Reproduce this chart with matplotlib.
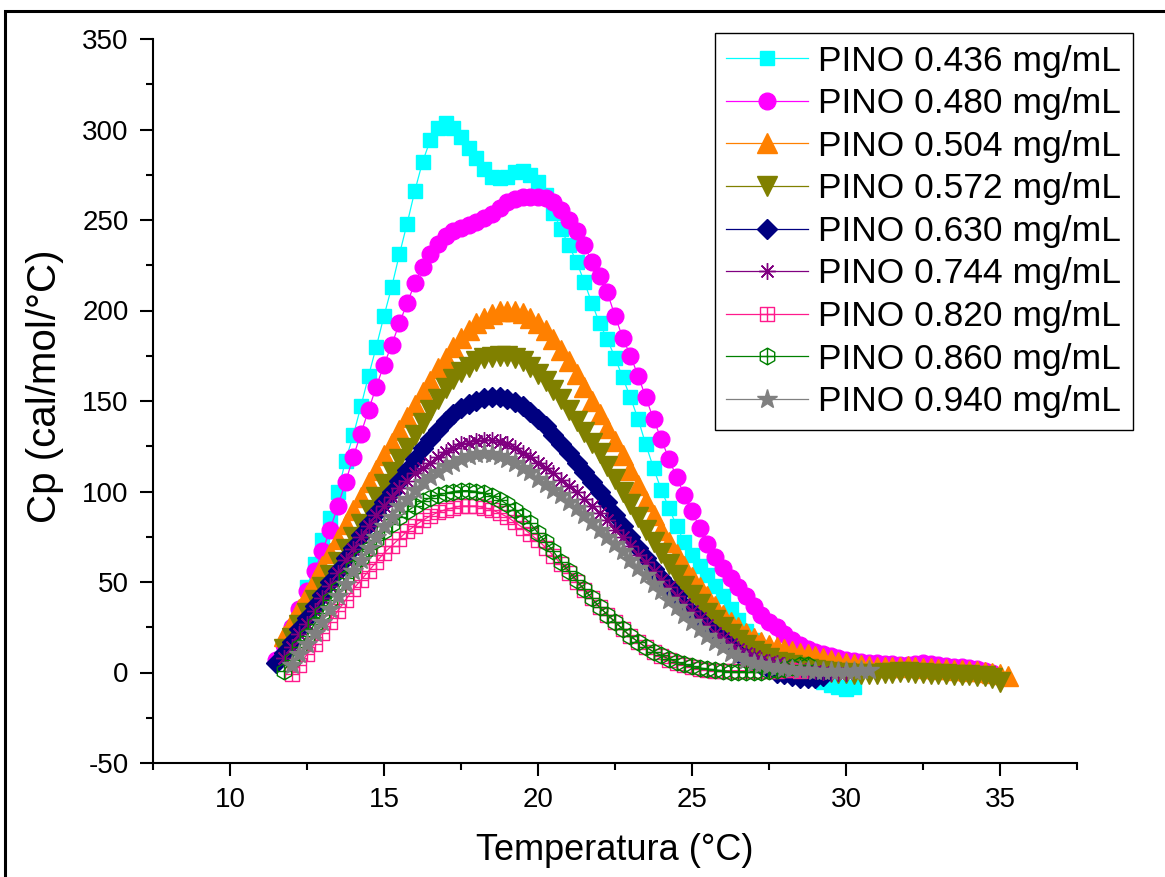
import numpy as np
import matplotlib
matplotlib.use('Agg')
from matplotlib import pyplot as plt
from matplotlib.path import Path
from matplotlib.patches import Rectangle

N = None

# temperature grid (°C)
temp = [11.50, 11.75, 12.00, 12.25, 12.50, 12.75, 13.00, 13.25,
        13.50, 13.75, 14.00, 14.25, 14.50, 14.75, 15.00, 15.25,
        15.50, 15.75, 16.00, 16.25, 16.50, 16.75, 17.00, 17.25,
        17.50, 17.75, 18.00, 18.25, 18.50, 18.75, 19.00, 19.25,
        19.50, 19.75, 20.00, 20.25, 20.50, 20.75, 21.00, 21.25,
        21.50, 21.75, 22.00, 22.25, 22.50, 22.75, 23.00, 23.25,
        23.50, 23.75, 24.00, 24.25, 24.50, 24.75, 25.00, 25.25,
        25.50, 25.75, 26.00, 26.25, 26.50, 26.75, 27.00, 27.25,
        27.50, 27.75, 28.00, 28.25, 28.50, 28.75, 29.00, 29.25,
        29.50, 29.75, 30.00, 30.25, 30.50, 30.75, 31.00, 31.25,
        31.50, 31.75, 32.00, 32.25, 32.50, 32.75, 33.00, 33.25,
        33.50, 33.75, 34.00, 34.25, 34.50, 34.75, 35.00, 35.25]

# Cp (cal/mol/°C) for each concentration
cp_0436 = [N, 14, 24, 34, 47, 60, 73, 85.5,
           99.5, 117, 131, 147, 164, 180, 197, 213,
           231, 248, 266, 282, 294, 301, 303.5, 301,
           296, 290, 284, 278, 274, 273, 274, 276.5,
           277, 275, 271, 264, 254, 245, 236, 227,
           216, 204, 193, 184, 174, 163, 152, 140,
           126, 113, 101, 91, 81, 72, 65, 59,
           54, 48, 42, 35, 29, 23, 18, 14,
           10, 7, 4, 2, 0, -2, -3, -5,
           -7, -8, -9, -8, N, N, N, N,
           N, N, N, N, N, N, N, N,
           N, N, N, N, N, N, N, N]
cp_0480 = [7, 15, 25, 35, 45, 56, 67, 79,
           92, 105, 119, 132, 145, 158, 170, 181,
           193, 204, 215, 224, 231, 237, 241, 244,
           245.5, 247.5, 249, 251, 253.5, 256.5, 260, 261.5,
           262.5, 262.5, 262.5, 262, 260, 255.5, 250, 244,
           236, 227, 219, 210, 197, 185, 175, 164,
           152, 140, 129, 118, 108, 98, 89, 80,
           71, 64, 58, 52, 47, 42, 37, 32,
           28, 25, 21, 18, 15, 13, 11.5, 10,
           9, 8, 7, 6.5, 6, 5.5, 5, 4.5,
           4.5, 4, 4, 4.5, 5, 4.5, 4, 3.5,
           3, 3, 2.5, 2, 1, 0, N, N]
cp_0504 = [N, 20, 28, 35, 43, 51, 59, 66,
           74, 82, 90, 97, 105, 112, 120, 127,
           134, 141, 148, 155, 161, 168, 174, 180,
           185, 189, 193, 196, 198, 199.5, 200, 200,
           198.5, 196, 193, 189, 184, 178, 172, 165,
           158, 150, 143, 135, 128, 120, 112, 103.5,
           95, 87, 79, 72, 65.5, 59, 53, 47.5,
           42, 37, 32, 28, 25, 22, 19, 17,
           15, 14, 13, 12, 11, 10, 9, 8,
           7, 6, 5, 4.5, 4, 3.5, 3, 3,
           3, 3, 3.5, 3, 2.5, 2.5, 2, 2,
           1.5, 1.5, 1, 1, 0.5, 0, -1, -2]
cp_0572 = [N, 13, 19, 26, 33, 40, 47, 54,
           61, 68, 75, 82, 90, 97, 104, 111,
           118, 124, 131, 138, 145, 151, 157, 162,
           166, 169, 172, 173.5, 174.5, 175, 175, 174,
           172, 169, 165, 161, 156, 151, 145, 139,
           133, 127, 121, 114, 107, 100, 93, 86,
           79, 72, 66, 60, 54, 48, 43, 38,
           33, 29, 25, 21, 18, 15, 12, 10,
           8, 6, 5, 4, 3, 2, 1.5, 1,
           0.5, 0, -0.5, -1, -1, -1, -1, -0.5,
           0, 0.5, 0.5, 0, -0.5, -1, -1, -1,
           -1.5, -1.5, -1.5, -2, -2, -3, -5, N]
cp_0630 = [5, 11, 17, 24, 30, 37, 43, 50,
           56, 63, 69, 76, 82, 88, 94, 100,
           106, 112, 118, 124, 129, 134, 139, 143,
           146, 148.5, 150, 151.5, 152, 152, 151, 149.5,
           147, 144, 140, 136, 131, 126, 121, 116,
           111, 105, 100, 94, 87, 81, 75, 69,
           63, 57, 52, 47, 42, 37, 33, 29,
           25, 21, 18, 14, 11, 8, 6, 4,
           2, 0, -1, -2, -3, -3, -3, -2,
           N, N, N, N, N, N, N, N,
           N, N, N, N, N, N, N, N,
           N, N, N, N, N, N, N, N]
cp_0744 = [N, 8, 14, 21, 27, 34, 41, 48,
           55, 62, 68, 75, 81, 87, 92, 97,
           102, 106, 110, 113, 116, 119, 122, 124,
           126, 127, 128, 128.5, 128.5, 127.5, 126, 124,
           121.5, 119, 116, 113, 110, 106.5, 103, 99.5,
           96, 92, 88, 84, 79, 75, 70, 65,
           61, 56, 51, 47, 42, 38, 34, 30,
           26, 22, 19, 16, 13, 11, 9, 7,
           6, 5, 4, 3, 2, 1.5, 1, 0.5,
           0, 0, 0, N, N, N, N, N,
           N, N, N, N, N, N, N, N,
           N, N, N, N, N, N, N, N]
cp_0820 = [N, N, -1, 4, 10, 16, 22, 28,
           34, 40, 46, 51, 56, 61, 66, 70,
           74, 78, 81, 84, 86.5, 88.5, 90, 91,
           92, 92, 92, 91, 90, 88, 86, 83,
           80, 76.5, 73, 69, 64.5, 60, 55, 50,
           45.5, 41, 36, 32, 28, 24, 20, 17,
           14, 11.5, 9, 7, 5.5, 4, 3, 2,
           1.5, 1, 1, 1, 1, 1, 1, 1,
           1, 1, 1.5, 1.5, 1, N, N, N,
           N, N, N, N, N, N, N, N,
           N, N, N, N, N, N, N, N,
           N, N, N, N, N, N, N, N]
cp_0860 = [N, 1, 7, 14, 20, 27, 33, 40,
           46, 52, 58, 63, 68, 73, 78, 82,
           86, 89, 92, 94.5, 96.5, 98, 99, 100,
           100.5, 100.5, 100, 99, 97.5, 95.5, 93, 90,
           86.5, 82.5, 77, 72, 67, 61, 56, 51,
           46, 41, 36, 32, 28, 24, 20, 17,
           14, 11.5, 9.5, 7.5, 6, 4.5, 3.5, 2.5,
           2, 1.5, 1, 0.5, 0.5, 0.5, 0.5, 0.5,
           1, 1.5, 2, 3, 4, 4, N, N,
           N, N, N, N, N, N, N, N,
           N, N, N, N, N, N, N, N,
           N, N, N, N, N, N, N, N]
cp_0940 = [N, N, 4, 10, 16, 22, 28, 35,
           42, 49, 56, 62, 69, 75, 81, 86,
           92, 96, 101, 105, 108, 111, 114, 116,
           118, 119.5, 120.5, 121, 120.5, 119.5, 118, 116,
           113, 110.5, 107, 104, 101, 98, 94, 91,
           87, 83, 79, 75, 71, 67, 62, 58,
           54, 49, 45, 40, 36, 32, 28, 24,
           20, 17, 14, 11, 9, 7, 5.5, 4.5,
           3.5, 3, 2.5, 2, 1.5, 1.5, 1, 1,
           1, 1, 1, 1, 1.5, 1.5, N, N,
           N, N, N, N, N, N, N, N,
           N, N, N, N, N, N, N, N]

labels = ['PINO 0.436 mg/mL', 'PINO 0.480 mg/mL', 'PINO 0.504 mg/mL',
          'PINO 0.572 mg/mL', 'PINO 0.630 mg/mL', 'PINO 0.744 mg/mL',
          'PINO 0.820 mg/mL', 'PINO 0.860 mg/mL', 'PINO 0.940 mg/mL']

# open square with a cross, open hexagon with a cross
sq_cross = Path([(-1, -1), (1, -1), (1, 1), (-1, 1), (-1, -1),
                 (0, -1), (0, 1), (-1, 0), (1, 0)],
                [Path.MOVETO, Path.LINETO, Path.LINETO, Path.LINETO, Path.CLOSEPOLY,
                 Path.MOVETO, Path.LINETO, Path.MOVETO, Path.LINETO])
ang = np.deg2rad([90, 150, 210, 270, 330, 30, 90])
c30 = np.cos(np.deg2rad(30))
hex_verts = list(zip(np.cos(ang), np.sin(ang))) + [(0, 1), (0, -1), (-c30, 0), (c30, 0)]
hex_codes = [Path.MOVETO] + [Path.LINETO] * 5 + [Path.CLOSEPOLY] + \
            [Path.MOVETO, Path.LINETO, Path.MOVETO, Path.LINETO]
hex_cross = Path(hex_verts, hex_codes)

styles = [
    dict(color='#00ffff', marker='s', ms=10.5, mfc='#00ffff'),
    dict(color='#ff00ff', marker='o', ms=12, mfc='#ff00ff'),
    dict(color='#ff8000', marker='^', ms=14, mfc='#ff8000'),
    dict(color='#808000', marker='v', ms=14, mfc='#808000'),
    dict(color='#000080', marker='D', ms=10.5, mfc='#000080'),
    dict(color='#800080', marker=(8, 2, 0), ms=12, mfc='#800080'),
    dict(color='#ff1a8c', marker=sq_cross, ms=10, mfc='none'),
    dict(color='#008000', marker=hex_cross, ms=12, mfc='none'),
    dict(color='#808080', marker='*', ms=15, mfc='#808080'),
]

plt.rcParams['font.family'] = ['Liberation Sans', 'DejaVu Sans']
plt.rcParams['axes.unicode_minus'] = False

fig = plt.figure(figsize=(11.65, 8.77), dpi=100)
ax = fig.add_axes([153 / 1165, 1 - 763 / 877, 924 / 1165, 724 / 877])

x = np.array(temp)
series = [cp_0436, cp_0480, cp_0504, cp_0572, cp_0630, cp_0744, cp_0820, cp_0860, cp_0940]
for y, lab, st in zip(series, labels, styles):
    y = np.array(y, dtype=float)
    ax.plot(x, y, color=st['color'], lw=0.9, marker=st['marker'], ms=st['ms'],
            mfc=st['mfc'], mec=st['color'], mew=1.0, label=lab)

ax.set_xlim(7.5, 37.5)
ax.set_ylim(-50, 350)
ax.set_xticks([10, 15, 20, 25, 30, 35])
ax.set_xticks(np.array([7.5, 12.5, 17.5, 22.5, 27.5, 32.5, 37.5]), minor=True)
ax.set_yticks([-50, 0, 50, 100, 150, 200, 250, 300, 350])
ax.set_yticks([-25, 25, 75, 125, 175, 225, 275, 325], minor=True)
ax.tick_params(which='major', direction='out', length=9.5, width=1.5, labelsize=20, pad=8)
ax.tick_params(which='minor', direction='out', length=5, width=1.5)
for s in ('top', 'right'):
    ax.spines[s].set_visible(False)
for s in ('left', 'bottom'):
    ax.spines[s].set_linewidth(1.5)

ax.set_xlabel('Temperatura (°C)', fontsize=26, labelpad=14)
ax.set_ylabel('Cp (cal/mol/°C)', fontsize=29)
ax.yaxis.set_label_coords(-0.096, 0.52)

leg = ax.legend(loc='upper right', bbox_to_anchor=(1133 / 1165, 1 - 33 / 877),
                bbox_transform=fig.transFigure, borderaxespad=0, fontsize=25.5,
                frameon=True, fancybox=False, edgecolor='black', framealpha=1,
                handlelength=2.3, handletextpad=0.3, labelspacing=0.27, borderpad=0.33)
leg.get_frame().set_linewidth(1.0)

fig.add_artist(Rectangle((5 / 1165, -0.1), 1.2, (877 - 11) / 877 + 0.1,
                         transform=fig.transFigure, fill=False, lw=2.2, ec='black'))

plt.savefig('out.png', dpi=100)
